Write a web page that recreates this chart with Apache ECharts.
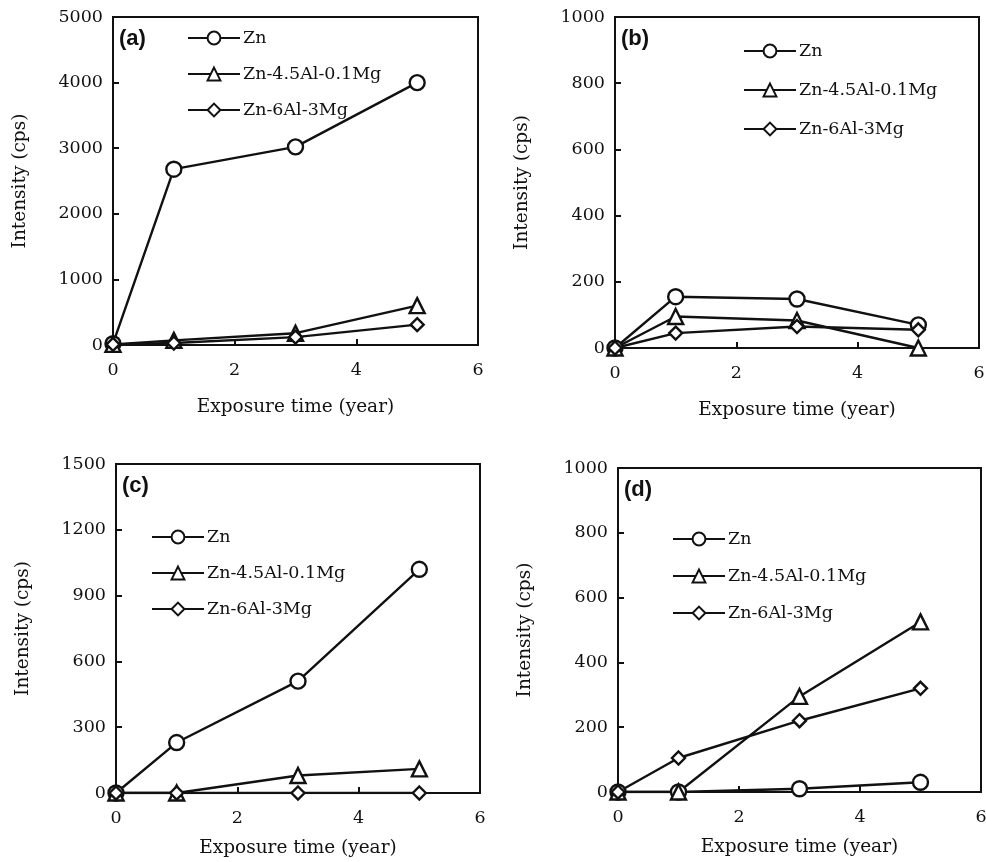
<!DOCTYPE html>
<html>
<head>
<meta charset="utf-8">
<script src="https://cdn.jsdelivr.net/npm/echarts@6/dist/echarts.min.js"></script>
<style>
  html, body { margin: 0; padding: 0; background: #fff; }
  #chart { width: 986px; height: 862px; }
</style>
</head>
<body>
<div id="chart"></div>
<script>
// exposure time (year)
const years = [0, 1, 3, 5];
const seriesNames = ['Zn', 'Zn-4.5Al-0.1Mg', 'Zn-6Al-3Mg'];
const panelLabels = ['(a)', '(b)', '(c)', '(d)'];

// panel (a)
const znA = [20, 2680, 3020, 4000];
const alA = [10, 70, 180, 600];
const mgA = [10, 30, 120, 310];
// panel (b)
const znB = [0, 155, 148, 70];
const alB = [0, 95, 83, 0];
const mgB = [0, 45, 65, 55];
// panel (c)
const znC = [0, 230, 510, 1020];
const alC = [0, 0, 80, 110];
const mgC = [0, 0, 0, 0];
// panel (d)
const znD = [0, 0, 10, 30];
const alD = [0, 0, 295, 525];
const mgD = [0, 105, 220, 320];

const yMax = [5000, 1000, 1500, 1000];
const yStep = [1000, 200, 300, 200];

const panels = [
    [znA, alA, mgA],
    [znB, alB, mgB],
    [znC, alC, mgC],
    [znD, alD, mgD]
];

const grids = [
    { left: 113, top: 17, width: 365, height: 328 },
    { left: 615, top: 17, width: 364, height: 331 },
    { left: 116, top: 464, width: 364, height: 329 },
    { left: 618, top: 468, width: 363, height: 324 }
];
const xNameGap = [53, 53, 46, 46];
const legendPos = [
    { left: 187, top: 29, gap: 18 },
    { left: 743, top: 42, gap: 21 },
    { left: 151, top: 528, gap: 18 },
    { left: 672, top: 530, gap: 19 }
];

const serif = 'DejaVu Serif';
const symbols = ['circle', 'triangle', 'diamond'];
const symSizes = [15, 15, 13];

const chart = echarts.init(document.getElementById('chart'), null, { renderer: 'canvas' });

let xAxes = [], yAxes = [], series = [], legends = [], titles = [];

grids.forEach((g, i) => {
    g.show = true;
    g.borderColor = '#111';
    g.borderWidth = 2;
    g.backgroundColor = 'transparent';
    g.containLabel = false;
    g.outerBoundsMode = 'none';

    xAxes.push({
        type: 'value',
        gridIndex: i,
        min: 0,
        max: 6,
        interval: 2,
        name: 'Exposure time (year)',
        nameLocation: 'middle',
        nameGap: xNameGap[i],
        nameTextStyle: { fontFamily: serif, fontSize: 18.5, color: '#111' },
        axisLine: { show: true, lineStyle: { color: '#111', width: 2 } },
        axisTick: { show: true, inside: true, length: 6, lineStyle: { color: '#111', width: 2 } },
        axisLabel: { fontFamily: serif, fontSize: 17.5, color: '#111', margin: 16 },
        splitLine: { show: false }
    });

    yAxes.push({
        type: 'value',
        gridIndex: i,
        min: 0,
        max: yMax[i],
        interval: yStep[i],
        name: 'Intensity (cps)',
        nameLocation: 'middle',
        nameGap: 83,
        nameTextStyle: { fontFamily: serif, fontSize: 18.5, color: '#111' },
        axisLine: { show: true, lineStyle: { color: '#111', width: 2 } },
        axisTick: { show: true, inside: true, length: 6, lineStyle: { color: '#111', width: 2 } },
        axisLabel: { fontFamily: serif, fontSize: 17.5, color: '#111', margin: 10, formatter: v => String(v) },
        splitLine: { show: false }
    });

    panels[i].forEach((vals, k) => {
        series.push({
            name: seriesNames[k],
            type: 'line',
            xAxisIndex: i,
            yAxisIndex: i,
            data: years.map((x, j) => [x, vals[j]]),
            symbol: symbols[k],
            symbolSize: symSizes[k],
            showAllSymbol: true,
            lineStyle: { color: '#111', width: 2.4 },
            itemStyle: { color: '#fff', borderColor: '#111', borderWidth: 2.4 },
            emphasis: { disabled: true },
            z: 3
        });
    });

    legends.push({
        orient: 'vertical',
        left: legendPos[i].left,
        top: legendPos[i].top,
        itemWidth: 52,
        itemHeight: 16,
        itemGap: legendPos[i].gap,
        padding: 0,
        selectedMode: false,
        data: seriesNames,
        textStyle: { fontFamily: serif, fontSize: 17.5, color: '#111', padding: [0, 0, 0, -2] }
    });

    titles.push({
        text: panelLabels[i],
        left: g.left + 6,
        top: g.top + 11,
        padding: 0,
        textStyle: { fontFamily: 'Liberation Sans', fontWeight: 'bold', fontSize: 22, color: '#111' }
    });
});

chart.setOption({
    animation: false,
    backgroundColor: '#fff',
    title: titles,
    legend: legends,
    grid: grids,
    xAxis: xAxes,
    yAxis: yAxes,
    series: series
});
</script>
</body>
</html>
